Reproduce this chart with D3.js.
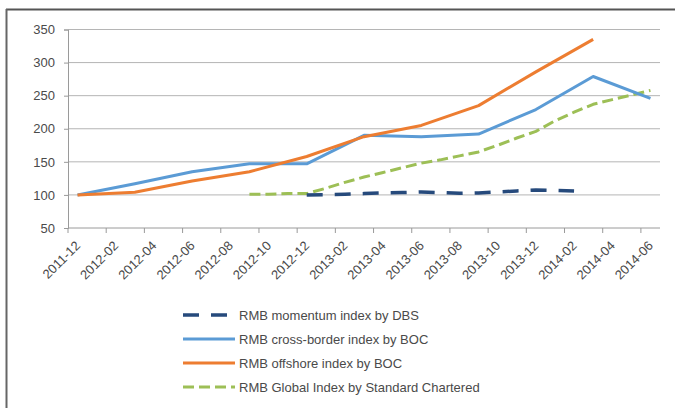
<!DOCTYPE html>
<html><head><meta charset="utf-8">
<script src="https://cdn.jsdelivr.net/npm/d3@7/dist/d3.min.js"></script>
<style>
body{margin:0;background:#fff;}
svg text{font-family:"Liberation Sans",Arial,sans-serif;}
</style>
</head><body>
<svg id="c" width="675" height="408"></svg>
<script>
// ---- data ----
const months = ["2011-12","2012-01","2012-02","2012-03","2012-04","2012-05","2012-06","2012-07","2012-08","2012-09","2012-10","2012-11","2012-12",
  "2013-01","2013-02","2013-03","2013-04","2013-05","2013-06","2013-07","2013-08","2013-09","2013-10","2013-11","2013-12",
  "2014-01","2014-02","2014-03","2014-04","2014-05","2014-06"];
const tickLabels = ["2011-12","2012-02","2012-04","2012-06","2012-08","2012-10","2012-12","2013-02","2013-04","2013-06","2013-08","2013-10","2013-12","2014-02","2014-04","2014-06"];
const yTicks = [50,100,150,200,250,300,350];

const dbsMonths = ["2012-12","2013-01","2013-02","2013-03","2013-04","2013-05","2013-06","2013-07","2013-08","2013-09","2013-10","2013-11","2013-12","2014-01","2014-02"];
const dbsValues = [100,100.5,101,102,103,103.5,104.5,103.5,102.5,103,104.5,106,107.5,107,106];

const crossMonths = ["2011-12","2012-03","2012-06","2012-09","2012-12","2013-03","2013-06","2013-09","2013-12","2014-03","2014-06"];
const crossValues = [100,117,135,147,147,190,188,192,229,279,246];

const offshoreMonths = ["2011-12","2012-03","2012-06","2012-09","2012-12","2013-03","2013-06","2013-09","2013-12","2014-03"];
const offshoreValues = [100,104,121,135,158,188,205,235,286,335];

const globalMonths = ["2012-09","2012-10","2012-11","2012-12","2013-01","2013-02","2013-03","2013-04","2013-05","2013-06","2013-07","2013-08","2013-09","2013-10","2013-11","2013-12","2014-01","2014-02","2014-03","2014-04","2014-05","2014-06"];
const globalValues = [101,101,102,102,110,119,127,134,141,148,153,159,165,175,186,196,212,225,237,244,251,258];

const seriesNames = ["RMB momentum index by DBS","RMB cross-border index by BOC","RMB offshore index by BOC","RMB Global Index by Standard Chartered"];

// ---- drawing ----
const svg = d3.select("#c");
const L = 68, R = 660, T = 29.5, B = 228;
const x = d3.scaleBand().domain(months).range([L, R]).paddingInner(0).paddingOuter(0);
const y = d3.scaleLinear().domain([50, 350]).range([B, T]);
const cx = m => x(m) + x.bandwidth() / 2;

// frame
svg.append("line").attr("x1",6).attr("x2",675).attr("y1",9.5).attr("y2",9.5).attr("stroke","#555").attr("stroke-width",2);
svg.append("line").attr("x1",6.5).attr("x2",6.5).attr("y1",9).attr("y2",408).attr("stroke","#666").attr("stroke-width",2);

// grid
svg.append("g").selectAll("line").data(yTicks.filter(d=>d>50)).join("line")
  .attr("x1", L).attr("x2", R).attr("y1", d => y(d)).attr("y2", d => y(d))
  .attr("stroke", "#b5b5b5").attr("stroke-width", 1);

// y axis
const yAxis = d3.axisLeft(y).tickValues(yTicks).tickSize(4).tickPadding(9);
const gy = svg.append("g").attr("transform", `translate(${L},0)`).call(yAxis);
gy.select(".domain").attr("stroke", "#9a9a9a");
gy.selectAll(".tick line").attr("stroke", "#9a9a9a");
gy.selectAll("text").attr("font-size", 13).attr("fill", "#4a4a4a").attr("font-family", "Liberation Sans, Arial, sans-serif");

// x axis
svg.append("line").attr("x1", L).attr("x2", R).attr("y1", B).attr("y2", B).attr("stroke", "#9a9a9a");
const gx = svg.append("g");
gx.selectAll("line").data(tickLabels).join("line")
  .attr("x1", d => x(d)).attr("x2", d => x(d)).attr("y1", B).attr("y2", B + 5)
  .attr("stroke", "#9a9a9a");
gx.selectAll("text").data(tickLabels).join("text")
  .attr("transform", d => `translate(${cx(d) + 3.5},${B + 18.5}) rotate(-45)`)
  .attr("text-anchor", "end").attr("font-size", 13).attr("fill", "#4a4a4a")
  .text(d => d);

const line = d3.line().x(d => cx(d[0])).y(d => y(d[1]));
const styles = [
  {months: dbsMonths, values: dbsValues, color: "#264a7c", width: 3.5, dash: "16,12"},
  {months: crossMonths, values: crossValues, color: "#5b9bd5", width: 3, dash: null},
  {months: offshoreMonths, values: offshoreValues, color: "#ed7d31", width: 3, dash: null},
  {months: globalMonths, values: globalValues, color: "#9dbf56", width: 3, dash: "11,5"}
];
// draw order: global, dbs, cross, offshore
[3,0,1,2].forEach(i => {
  const s = styles[i];
  svg.append("path").datum(d3.zip(s.months, s.values))
    .attr("d", line).attr("fill", "none").attr("stroke", s.color)
    .attr("stroke-width", s.width).attr("stroke-linejoin", "round")
    .attr("stroke-dasharray", s.dash);
});

// legend
const lg = svg.append("g");
seriesNames.forEach((name, i) => {
  const s = styles[i];
  const yy = 315 + i * 24;
  lg.append("line").attr("x1", 183).attr("x2", 235).attr("y1", yy).attr("y2", yy)
    .attr("stroke", s.color).attr("stroke-width", s.width).attr("stroke-dasharray", s.dash);
  lg.append("text").attr("x", 239).attr("y", yy).attr("dominant-baseline", "central")
    .attr("font-size", 13).attr("fill", "#4a4a4a").text(name);
});
</script>
</body></html>
